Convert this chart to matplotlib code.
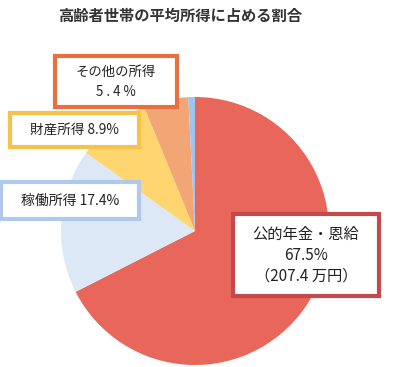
import matplotlib
matplotlib.use("Agg")
import matplotlib.pyplot as plt
from matplotlib.patches import Rectangle

plt.rcParams["font.family"] = ["Noto Sans CJK JP", "DejaVu Sans"]

# 高齢者世帯の平均所得の内訳 (%)
categories = ["公的年金・恩給", "稼働所得", "財産所得", "その他の所得", "仕送り等"]
shares = [67.5, 17.4, 8.9, 5.4, 0.8]
colors = ["#E8675A", "#DDE8F7", "#FFD56F", "#F2A676", "#9FC4EE"]

title = "高齢者世帯の平均所得に占める割合"

# label boxes: text, border colour, (left, top, right, bottom) in pixels, font size, line spacing
labels = [
    ("公的年金・恩給\n67.5%\n（207.4 万円）", "#C24A4C", (233, 214, 379, 296), 11, 1.3),
    ("稼働所得 17.4%", "#AFC8EC", (1, 182, 139, 219), 10, 1.3),
    ("財産所得 8.9%", "#F7C24A", (10, 113, 139, 147), 9.8, 1.3),
    ("その他の所得\n5 . 4 %", "#E8703F", (55, 56, 177, 107), 9.6, 1.55),
]

W, H = 400, 367
fig = plt.figure(figsize=(W / 100, H / 100), dpi=100)

cx, cy, r = 195, 231, 134
ax = fig.add_axes([(cx - r) / W, (H - cy - r) / H, 2 * r / W, 2 * r / H])
ax.pie(shares, colors=colors, startangle=90, counterclock=False,
       radius=1, wedgeprops=dict(linewidth=0))
ax.set_xlim(-1, 1)
ax.set_ylim(-1, 1)
ax.set_aspect("auto")
ax.axis("off")

fig.text(180 / W, 1 - 16 / H, title, ha="center", va="center",
         fontsize=11, fontweight="bold", color="#333333")

for text, edge, (l, t, rr, b), fs, ls in labels:
    x0, y0 = l / W, 1 - b / H
    w, h = (rr - l) / W, (b - t) / H
    fig.patches.append(Rectangle((x0, y0), w, h, transform=fig.transFigure,
                                 facecolor="white", edgecolor=edge,
                                 linewidth=3, zorder=5))
    fig.text(x0 + w / 2, y0 + h / 2, text, ha="center", va="center",
             fontsize=fs, color="#222222", linespacing=ls, zorder=6)

fig.savefig("out.png", dpi=100)
